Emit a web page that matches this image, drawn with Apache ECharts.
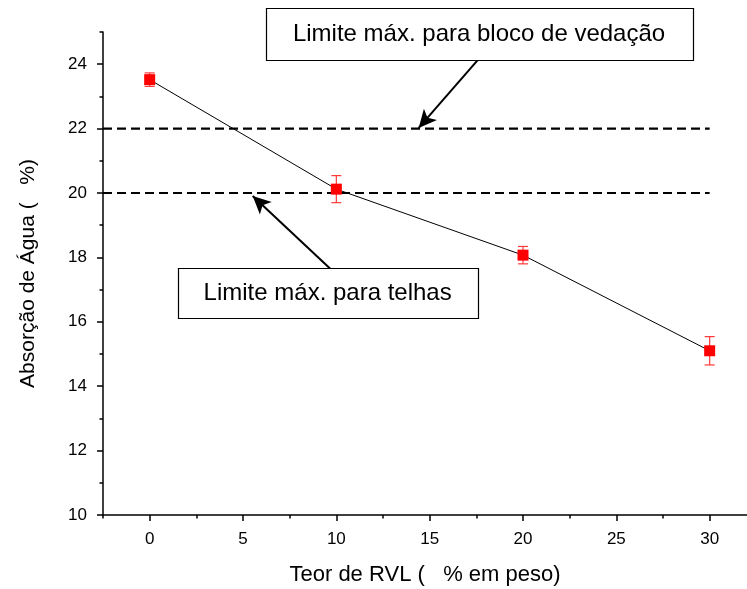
<!DOCTYPE html>
<html>
<head>
<meta charset="utf-8">
<script src="https://cdn.jsdelivr.net/npm/echarts@6/dist/echarts.min.js"></script>
<style>
    html, body { margin: 0; padding: 0; background: #fff; }
    #main { width: 747px; height: 589px; }
</style>
</head>
<body>
<div id="main"></div>
<script>
// dados
var teor = [0, 10, 20, 30];
var absorcao = [23.52, 20.12, 18.07, 15.10];
var erro = [0.21, 0.42, 0.27, 0.44];

var xMajor = [0, 5, 10, 15, 20, 25, 30];
var xMinor = [-2.5, 2.5, 7.5, 12.5, 17.5, 22.5, 27.5];
var yMajor = [10, 12, 14, 16, 18, 20, 22, 24];
var yMinor = [11, 13, 15, 17, 19, 21, 23, 25];

// limites normativos
var limiteBloco = 22;
var limiteTelhas = 20;
var limiteX = [-2.5, 30];

// anotações (coordenadas do gráfico)
var caixaBloco = [6.21, 25.74, 29.08, 24.12];
var caixaTelhas = [1.5, 17.67, 17.57, 16.12];
var setaBloco = [[17.62, 24.16], [14.41, 22.02]];
var setaTelhas = [[9.69, 17.64], [5.52, 19.91]];
var textoBloco = 'Limite máx. para bloco de vedação';
var textoTelhas = 'Limite máx. para telhas';

var fonte = 'Liberation Sans, Arial, sans-serif';

var chart = echarts.init(document.getElementById('main'));

var pontos = [];
for (var i = 0; i < teor.length; i++) {
    pontos.push([teor[i], absorcao[i], absorcao[i] - erro[i], absorcao[i] + erro[i]]);
}
var linha = teor.map(function (t, i) { return [t, absorcao[i]]; });

var option = {
    animation: false,
    grid: { left: 103, right: 0, top: 32, bottom: 74, containLabel: false, outerBoundsMode: 'none' },
    xAxis: [{
        type: 'value', min: -2.5, max: 32,
        name: 'Teor de RVL (   % em peso)',
        nameLocation: 'middle', nameGap: 49,
        nameTextStyle: { fontFamily: fonte, fontSize: 22, color: '#000' },
        axisLine: { show: true, onZero: false, lineStyle: { color: '#000', width: 1.5 } },
        axisTick: { show: true, length: 6, customValues: xMajor, lineStyle: { color: '#000', width: 1.5 } },
        axisLabel: { customValues: xMajor, margin: 16, fontFamily: fonte, fontSize: 17, color: '#000' },
        splitLine: { show: false }
    }, {
        type: 'value', min: -2.5, max: 32, position: 'bottom',
        axisLine: { show: false, onZero: false },
        axisTick: { show: true, length: 3.5, customValues: xMinor, lineStyle: { color: '#000', width: 1.5 } },
        axisLabel: { show: false },
        splitLine: { show: false }
    }],
    yAxis: [{
        type: 'value', min: 10, max: 25, position: 'left',
        name: 'Absorção de Água (   %)',
        nameLocation: 'middle', nameGap: 64,
        nameTextStyle: { fontFamily: fonte, fontSize: 21, color: '#000' },
        axisLine: { show: true, onZero: false, lineStyle: { color: '#000', width: 1.5 } },
        axisTick: { show: true, length: 6, customValues: yMajor, lineStyle: { color: '#000', width: 1.5 } },
        axisLabel: { customValues: yMajor, margin: 16, fontFamily: fonte, fontSize: 17, color: '#000' },
        splitLine: { show: false }
    }, {
        type: 'value', min: 10, max: 25, position: 'left',
        axisLine: { show: false, onZero: false },
        axisTick: { show: true, length: 3.5, customValues: yMinor, lineStyle: { color: '#000', width: 1.5 } },
        axisLabel: { show: false },
        splitLine: { show: false }
    }],
    series: [{
        type: 'line',
        data: [[limiteX[0], limiteBloco], [limiteX[1], limiteBloco]],
        symbol: 'none',
        lineStyle: { color: '#000', width: 2.2, type: [9, 5] },
        markLine: {
            silent: true,
            symbol: ['none', 'arrow'],
            symbolSize: [13, 18],
            label: { show: false },
            lineStyle: { color: '#000', width: 2, type: 'solid' },
            data: [
                [{ coord: setaBloco[0] }, { coord: setaBloco[1] }],
                [{ coord: setaTelhas[0] }, { coord: setaTelhas[1] }]
            ]
        }
    }, {
        type: 'line',
        data: [[limiteX[0], limiteTelhas], [limiteX[1], limiteTelhas]],
        symbol: 'none',
        lineStyle: { color: '#000', width: 2.2, type: [9, 5] }
    }, {
        type: 'line',
        data: linha,
        symbol: 'none',
        lineStyle: { color: '#000', width: 1 }
    }, {
        type: 'custom',
        data: pontos,
        encode: { x: 0, y: [1, 2, 3] },
        renderItem: function (params, api) {
            var c = api.coord([api.value(0), api.value(1)]);
            var lo = api.coord([api.value(0), api.value(2)]);
            var hi = api.coord([api.value(0), api.value(3)]);
            var cap = 5, s = 5.5;
            var barStyle = { stroke: '#ff3a3a', lineWidth: 1.2 };
            return {
                type: 'group',
                children: [
                    { type: 'line', shape: { x1: c[0], y1: lo[1], x2: c[0], y2: hi[1] }, style: barStyle },
                    { type: 'line', shape: { x1: c[0] - cap, y1: lo[1], x2: c[0] + cap, y2: lo[1] }, style: barStyle },
                    { type: 'line', shape: { x1: c[0] - cap, y1: hi[1], x2: c[0] + cap, y2: hi[1] }, style: barStyle },
                    { type: 'rect', shape: { x: c[0] - s, y: c[1] - s, width: 2 * s, height: 2 * s }, style: { fill: '#ff0000' } }
                ]
            };
        },
        z: 5
    }]
};

chart.setOption(option);

// caixas de texto posicionadas pelas coordenadas do gráfico
function caixa(b, texto) {
    var p1 = chart.convertToPixel({ gridIndex: 0 }, [b[0], b[1]]);
    var p2 = chart.convertToPixel({ gridIndex: 0 }, [b[2], b[3]]);
    return [{
        type: 'rect',
        shape: { x: Math.round(p1[0]) + 0.5, y: Math.round(p1[1]) + 0.5, width: Math.round(p2[0] - p1[0]), height: Math.round(p2[1] - p1[1]) },
        style: { fill: '#fff', stroke: '#000', lineWidth: 1.2 },
        z: 10
    }, {
        type: 'text',
        x: (p1[0] + p2[0]) / 2,
        y: (p1[1] + p2[1]) / 2,
        style: { text: texto, fontFamily: fonte, fontSize: 24, fill: '#000', align: 'center', verticalAlign: 'middle' },
        z: 11
    }];
}

chart.setOption({
    graphic: caixa(caixaBloco, textoBloco).concat(caixa(caixaTelhas, textoTelhas))
});
</script>
</body>
</html>
